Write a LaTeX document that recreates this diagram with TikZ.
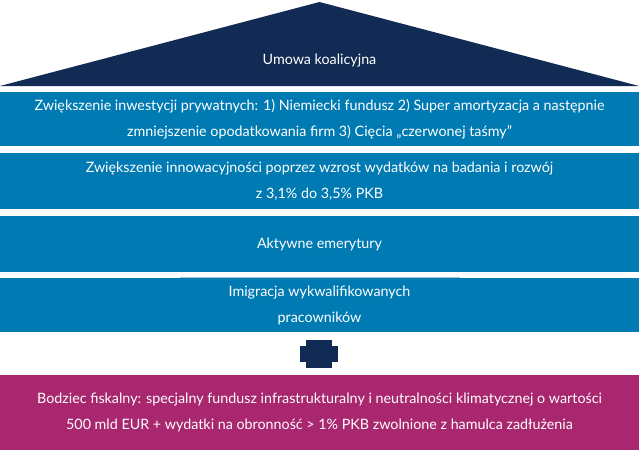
\documentclass[tikz,border=0pt]{standalone}
\usepackage{fontspec}
\setmainfont{Lato}
\usepackage{tikz}
\usetikzlibrary{calc}
\definecolor{navy}{HTML}{122B54}
\definecolor{barblue}{HTML}{007AB3}
\definecolor{magenta}{HTML}{A8276E}
\tikzset{
 barbox/.style={fill=barblue, draw=none, minimum width=639pt, inner sep=0pt,
   text=white, align=center, font=\fontsize{14.3}{26}\selectfont},
}
\newcommand{\pillar}[4]{
    \node[barbox, minimum height=#3pt, anchor=north] (#1) at (319.5, #2) {#4};
}

\begin{document}
\begin{tikzpicture}[x=1pt, y=-1pt]
    \useasboundingbox (0, 0) rectangle (639, 450);
    \fill[navy] (0, 86) -- (319.5, 2) -- (639, 86) -- cycle;
    \node[text=white, font=\fontsize{14.3}{16}\selectfont] (roof) at (319.5, 61) {Umowa koalicyjna};

    \pillar{invest}{92}{54}{Zwiększenie inwestycji prywatnych: 1) Niemiecki fundusz 2) Super amortyzacja a następnie\\zmniejszenie opodatkowania firm 3) Cięcia „czerwonej taśmy”}
    \pillar{innov}{153}{56}{Zwiększenie innowacyjności poprzez wzrost wydatków na badania i rozwój\\z 3,1\% do 3,5\% PKB}
    \pillar{pension}{216}{56}{Aktywne emerytury}
    \pillar{migr}{278}{54}{Imigracja wykwalifikowanych\\pracowników}
    \draw[barblue!40, line width=1pt] (180, 277) -- (460, 277);

    % plus sign
    \fill[navy] (300, 346) rectangle (338, 362);
    \fill[navy] (306, 340) rectangle (332, 368);

    \node[barbox, fill=magenta, minimum height=75pt, anchor=north] (fiscal) at (319.5, 375)
      {Bodziec fiskalny: specjalny fundusz infrastrukturalny i neutralności klimatycznej o wartości\\500 mld EUR + wydatki na obronność > 1\% PKB zwolnione z hamulca zadłużenia};
\end{tikzpicture}
\end{document}
